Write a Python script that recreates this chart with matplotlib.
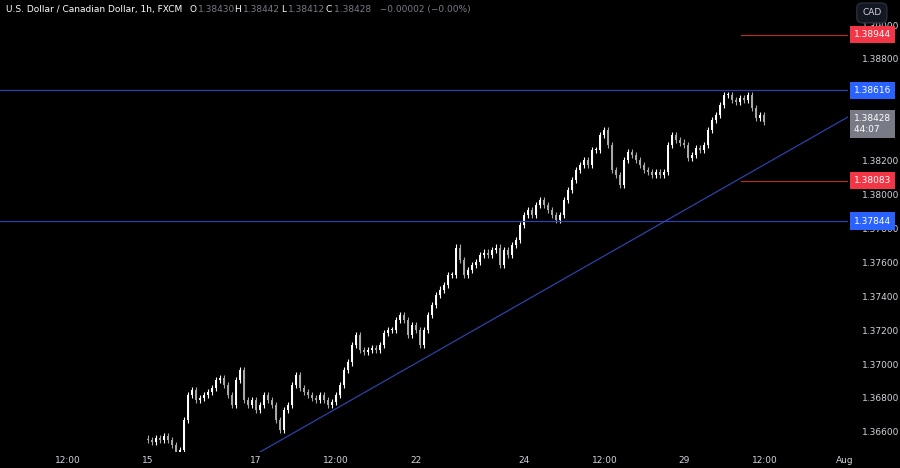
import matplotlib
matplotlib.use("Agg")
import matplotlib.pyplot as plt
import numpy as np

closes = [1.36552,1.36540,1.36564,1.36552,1.36576,1.36552,1.36523,1.36481,1.36493,1.36670,
1.36818,1.36847,1.36788,1.36800,1.36818,1.36835,1.36859,1.36906,1.36918,1.36877,
1.36818,1.36759,1.36906,1.36965,1.36788,1.36759,1.36788,1.36729,1.36759,1.36818,
1.36788,1.36759,1.36670,1.36611,1.36729,1.36759,1.36877,1.36936,1.36859,1.36835,
1.36818,1.36800,1.36788,1.36818,1.36788,1.36759,1.36776,1.36818,1.36877,1.36965,
1.37010,1.37113,1.37172,1.37083,1.37071,1.37083,1.37095,1.37083,1.37113,1.37183,
1.37201,1.37201,1.37260,1.37290,1.37260,1.37172,1.37231,1.37201,1.37113,1.37201,
1.37290,1.37349,1.37408,1.37438,1.37467,1.37526,1.37526,1.37686,1.37614,1.37526,
1.37555,1.37585,1.37602,1.37644,1.37656,1.37644,1.37673,1.37686,1.37585,1.37673,
1.37644,1.37703,1.37732,1.37821,1.37880,1.37909,1.37880,1.37939,1.37968,1.37939,
1.37909,1.37880,1.37850,1.37880,1.37968,1.38027,1.38086,1.38145,1.38175,1.38204,
1.38175,1.38263,1.38263,1.38352,1.38381,1.38293,1.38145,1.38116,1.38057,1.38204,
1.38251,1.38233,1.38204,1.38175,1.38145,1.38133,1.38116,1.38133,1.38116,1.38133,
1.38293,1.38352,1.38322,1.38305,1.38293,1.38216,1.38233,1.38273,1.38263,1.38293,
1.38381,1.38440,1.38470,1.38529,1.38588,1.38588,1.38558,1.38546,1.38570,1.38558,
1.38588,1.38511,1.38452,1.38470,1.38428]
first_open = 1.36560
wick = 0.0002

levels_blue = [1.38616, 1.37844]
levels_red = [1.38944, 1.38083]
trend_pts = [(28, 1.36481), (175, 1.38458)]
ytick_vals = [1.366, 1.368, 1.370, 1.372, 1.374, 1.376, 1.378, 1.380, 1.382, 1.388, 1.390]
xtick_pos = [-20, 0, 27, 47, 67, 94, 114.25, 134, 154.25, 174.25]
xtick_lab = ["12:00", "15", "17", "12:00", "22", "24", "12:00", "29", "12:00", "Aug"]

W, H = 900, 468
FS = 6.5
fig = plt.figure(figsize=(W/100, H/100), dpi=100, facecolor="black")
ax = fig.add_axes([0, 16/H, 848/W, 1-16/H], facecolor="black")
ax.set_xlim(-37, 175)
ax.set_ylim(1.39148-0.000059*452, 1.39148)

opens = [first_open] + closes[:-1]
for i, (o, c) in enumerate(zip(opens, closes)):
    col = "#ffffff" if c >= o else "#a8a8a8"
    ax.vlines(i, min(o, c)-wick, max(o, c)+wick, color=col, lw=0.8)
    ax.bar(i, max(abs(c-o), 0.00003), bottom=min(o, c), width=0.7, color=col, lw=0)

for lv in levels_blue:
    ax.axhline(lv, color="#3040a8", lw=0.9)
for lv in levels_red:
    ax.plot([148.25, 175], [lv, lv], color="#a83232", lw=0.9)
ax.axline(trend_pts[0], trend_pts[1], color="#3040a8", lw=0.9)

for s in ax.spines.values():
    s.set_visible(False)
ax.yaxis.tick_right()
ax.set_yticks(ytick_vals)
ax.set_yticklabels([f"{v:.5f}" for v in ytick_vals])
ax.tick_params(axis="y", length=0, colors="#d1d4dc", labelsize=FS, pad=10)
ax.set_xticks(xtick_pos)
ax.set_xticklabels(xtick_lab)
ax.tick_params(axis="x", length=0, colors="#d1d4dc", labelsize=FS, pad=3)

def tag(v, fc, txt):
    ax.text(1.0 + 6/848, v, txt, transform=ax.get_yaxis_transform(), color="white",
            fontsize=FS, va="center", ha="left", zorder=10, clip_on=False,
            bbox=dict(boxstyle="square,pad=0.45", fc=fc, ec="none"))
tag(1.38944, "#f23645", "1.38944")
tag(1.38616, "#2962ff", "1.38616")
tag(1.38083, "#f23645", "1.38083")
tag(1.37844, "#2962ff", "1.37844")
tag(1.38428-0.00012, "#787b86", "1.38428\n44:07  ")

fig.text(0.958, 0.982, "CAD", color="#d1d4dc", fontsize=FS, va="top", ha="left",
         bbox=dict(boxstyle="round,pad=0.6", fc="#131722", ec="#2a2e39"))
y0 = 0.99
fig.text(6/W, y0, "U.S. Dollar / Canadian Dollar, 1h, FXCM", color="#ffffff", fontsize=FS, va="top")
for lab, lx, val, vx in [("O", 189, "1.38430", 198), ("H", 234, "1.38442", 243),
                         ("L", 281, "1.38412", 288), ("C", 325, "1.38428   \u22120.00002 (\u22120.00%)", 334)]:
    fig.text(lx/W, y0, lab, color="#ffffff", fontsize=FS, va="top")
    fig.text(vx/W, y0, val, color="#787b86", fontsize=FS, va="top")

fig.savefig("out.png", dpi=100, facecolor="black")
